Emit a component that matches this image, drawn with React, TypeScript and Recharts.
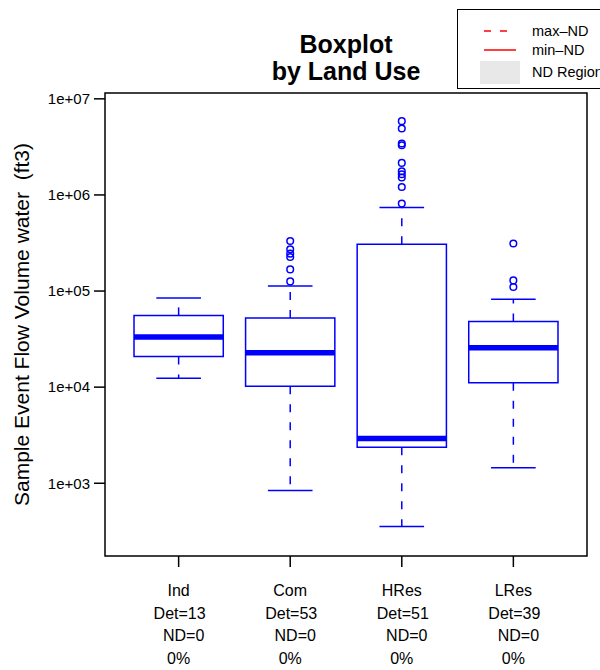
import React from "react";
import {
  ComposedChart,
  XAxis,
  YAxis,
  Scatter,
  ReferenceArea,
  ReferenceLine,
} from "recharts";

const categories = ["Ind", "Com", "HRes", "LRes"];
const detCounts = [13, 53, 51, 39];
const ndCounts = [0, 0, 0, 0];
const ndPercent = [0, 0, 0, 0];

const whiskerLow = [12400, 840, 354, 1450];
const lowerQuartile = [20900, 10200, 2370, 11100];
const medians = [33200, 22800, 2930, 25700];
const upperQuartile = [55800, 52300, 306000, 48300];
const whiskerHigh = [84600, 112700, 739000, 82000];

const outliersInd: number[] = [];
const outliersCom = [126000, 168000, 226000, 245000, 272000, 332000];
const outliersHRes = [
  813000, 1210000, 1517000, 1643000, 1766000, 2155000, 3294000, 3430000, 4918000, 5860000,
];
const outliersLRes = [110000, 129000, 312000];
const outlierGroups = [outliersInd, outliersCom, outliersHRes, outliersLRes];

const yTicks = [1e3, 1e4, 1e5, 1e6, 1e7];
const yTickLabels = ["1e+03", "1e+04", "1e+05", "1e+06", "1e+07"];

const X_DOMAIN: [number, number] = [0.34, 4.66];
const Y_DOMAIN: [number, number] = [175, 11500000];

const BLUE = "#0000ff";
const FONT = "'Liberation Sans', Arial, Helvetica, sans-serif";

const outlierPoints = outlierGroups.flatMap((vals, i) =>
  vals.map((v) => ({ x: i + 1, y: v }))
);

function CategoryTick(props: any) {
  const { x, y, payload } = props;
  const i = Math.round(payload.value) - 1;
  const lines = [
    categories[i],
    `Det=${detCounts[i]}`,
    `ND=${ndCounts[i]}`,
    `${ndPercent[i]}%`,
  ];
  const shift = [0, 1, 5, 0];
  return (
    <g>
      {lines.map((t, k) => (
        <text
          key={k}
          x={x + shift[k]}
          y={y + 27 + k * 22.7}
          textAnchor="middle"
          fontSize={16}
          fontFamily={FONT}
          fill="#000"
        >
          {t}
        </text>
      ))}
    </g>
  );
}

function YLabel(props: any) {
  const vb = props.viewBox || { y: 93, height: 463 };
  const cy = vb.y + vb.height / 2;
  return (
    <text
      x={21}
      y={cy}
      transform={`rotate(-90, 21, ${cy})`}
      textAnchor="middle"
      dominantBaseline="central"
      fontSize={21}
      fontFamily={FONT}
      fill="#000"
      xmlSpace="preserve"
      style={{ whiteSpace: "pre" }}
    >
      {"Sample Event Flow Volume water  (ft3)"}
    </text>
  );
}

export default function App() {
  return (
    <div
      style={{
        position: "absolute",
        left: 0,
        top: 0,
        width: 600,
        height: 670,
        background: "#fff",
        fontFamily: FONT,
        overflow: "hidden",
      }}
    >
      <div
        style={{
          position: "absolute",
          left: 105,
          width: 482,
          top: 31,
          textAlign: "center",
          fontWeight: "bold",
          fontSize: 25,
          lineHeight: "27px",
          color: "#000",
        }}
      >
        Boxplot
        <br />
        by Land Use
      </div>

      <div
        style={{
          position: "absolute",
          left: 457,
          top: 9,
          width: 170,
          height: 78,
          border: "1.5px solid #000",
          background: "#fff",
          zIndex: 2,
        }}
      >
        <svg width={170} height={78} style={{ position: "absolute", left: 0, top: 0 }}>
          <line x1={26} x2={50} y1={21} y2={21} stroke="#ff0000" strokeWidth={1.5} strokeDasharray="7 9" />
          <line x1={26} x2={58} y1={40} y2={40} stroke="#ff0000" strokeWidth={1.5} />
          <rect x={22} y={51} width={40} height={23} fill="#e8e8e8" />
          <text x={74} y={26} fontSize={14.5} fontFamily={FONT} fill="#000">max–ND</text>
          <text x={74} y={45} fontSize={14.5} fontFamily={FONT} fill="#000">min–ND</text>
          <text x={74} y={67} fontSize={14.5} fontFamily={FONT} fill="#000">ND Region</text>
        </svg>
      </div>

      <ComposedChart
        width={600}
        height={670}
        margin={{ top: 93, right: 13, bottom: 14, left: 8 }}
      >
        <XAxis
          type="number"
          dataKey="x"
          domain={X_DOMAIN}
          allowDataOverflow
          ticks={[1, 2, 3, 4]}
          tick={<CategoryTick />}
          tickSize={11}
          tickLine={{ stroke: "#000", strokeWidth: 1.5 }}
          axisLine={false}
          height={100}
          interval={0}
        />
        <YAxis
          type="number"
          dataKey="y"
          scale="log"
          domain={Y_DOMAIN}
          allowDataOverflow
          ticks={yTicks}
          tickFormatter={(v: number) => yTickLabels[yTicks.indexOf(v)] ?? ""}
          tick={{ fontSize: 15, fill: "#000", fontFamily: FONT }}
          tickSize={11}
          tickMargin={4}
          tickLine={{ stroke: "#000", strokeWidth: 1.5 }}
          axisLine={false}
          width={97}
          interval={0}
          label={<YLabel />}
        />

        {categories.map((c, i) => (
          <ReferenceLine
            key={`wl-${c}`}
            segment={[
              { x: i + 1, y: lowerQuartile[i] },
              { x: i + 1, y: whiskerLow[i] },
            ]}
            stroke={BLUE}
            strokeWidth={1.5}
            strokeDasharray="8 10"
          />
        ))}
        {categories.map((c, i) => (
          <ReferenceLine
            key={`wh-${c}`}
            segment={[
              { x: i + 1, y: upperQuartile[i] },
              { x: i + 1, y: whiskerHigh[i] },
            ]}
            stroke={BLUE}
            strokeWidth={1.5}
            strokeDasharray="8 10"
          />
        ))}
        {categories.map((c, i) => (
          <ReferenceLine
            key={`cl-${c}`}
            segment={[
              { x: i + 0.8, y: whiskerLow[i] },
              { x: i + 1.2, y: whiskerLow[i] },
            ]}
            stroke={BLUE}
            strokeWidth={1.5}
          />
        ))}
        {categories.map((c, i) => (
          <ReferenceLine
            key={`ch-${c}`}
            segment={[
              { x: i + 0.8, y: whiskerHigh[i] },
              { x: i + 1.2, y: whiskerHigh[i] },
            ]}
            stroke={BLUE}
            strokeWidth={1.5}
          />
        ))}
        {categories.map((c, i) => (
          <ReferenceArea
            key={`box-${c}`}
            x1={i + 0.6}
            x2={i + 1.4}
            y1={lowerQuartile[i]}
            y2={upperQuartile[i]}
            fill="none"
            fillOpacity={0}
            stroke={BLUE}
            strokeWidth={1.5}
          />
        ))}
        {categories.map((c, i) => (
          <ReferenceLine
            key={`med-${c}`}
            segment={[
              { x: i + 0.6, y: medians[i] },
              { x: i + 1.4, y: medians[i] },
            ]}
            stroke={BLUE}
            strokeWidth={5.5}
          />
        ))}

        <ReferenceArea
          x1={X_DOMAIN[0]}
          x2={X_DOMAIN[1]}
          y1={Y_DOMAIN[0]}
          y2={Y_DOMAIN[1]}
          fill="none"
          fillOpacity={0}
          stroke="#000"
          strokeWidth={1.5}
          ifOverflow="visible"
        />

        <Scatter
          data={outlierPoints}
          isAnimationActive={false}
          shape={(p: any) => (
            <circle
              cx={p.cx}
              cy={p.cy}
              r={3.3}
              fill="none"
              stroke={BLUE}
              strokeWidth={1.5}
            />
          )}
        />
      </ComposedChart>
    </div>
  );
}
